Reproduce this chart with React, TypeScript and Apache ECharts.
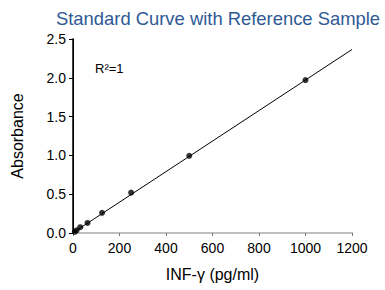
import React, { useEffect, useRef } from "react";
import * as echarts from "echarts";

const concentrations = [7.8, 15.6, 31.25, 62.5, 125, 250, 500, 1000];
const absorbance = [0.015, 0.035, 0.075, 0.13, 0.26, 0.52, 0.995, 1.97];
const fitX = [0, 1200];
const fitY = [0.004, 2.365];
const xTicks = { min: 0, max: 1200, interval: 200 };
const yTicks = { min: 0, max: 2.5, interval: 0.5 };
const titleText = "Standard Curve with Reference Sample";
const xName = "INF-γ (pg/ml)";
const yName = "Absorbance";
const rSquared = "R²=1";

const FONT = "'Liberation Sans', Arial, sans-serif";

export default function App() {
  const ref = useRef<HTMLDivElement>(null);
  useEffect(() => {
    if (!ref.current) return;
    const chart = echarts.init(ref.current, undefined, { renderer: "svg" });
    chart.setOption({
      animation: false,
      backgroundColor: "#ffffff",
      textStyle: { fontFamily: FONT },
      grid: { left: 73, right: 33, top: 39, bottom: 57 },
      xAxis: [
        {
          type: "value",
          min: xTicks.min,
          max: xTicks.max,
          interval: xTicks.interval,
          name: xName,
          nameLocation: "middle",
          nameGap: 33,
          nameTextStyle: { color: "#000", fontSize: 16, fontFamily: FONT },
          axisLine: { show: true, onZero: false, lineStyle: { color: "#777", width: 1.5 } },
          axisTick: { show: true, inside: false, length: 3, lineStyle: { color: "#777" } },
          axisLabel: {
            color: "#000",
            fontSize: 14,
            margin: 8,
            fontFamily: FONT,
            formatter: (v: number) => String(v),
          },
          splitLine: { show: false },
        },
        {
          type: "value",
          position: "top",
          min: xTicks.min,
          max: xTicks.max,
          axisLine: { show: true, lineStyle: { color: "#cccccc", width: 1.5 } },
          axisTick: { show: false },
          axisLabel: { show: false },
          splitLine: { show: false },
        },
      ],
      yAxis: [
        {
          type: "value",
          min: yTicks.min,
          max: yTicks.max,
          interval: yTicks.interval,
          name: yName,
          nameLocation: "middle",
          nameGap: 48,
          nameTextStyle: { color: "#000", fontSize: 16, fontFamily: FONT },
          axisLine: { show: true, onZero: false, lineStyle: { color: "#000", width: 1 } },
          axisTick: { show: true, inside: false, length: 4, lineStyle: { color: "#000" } },
          axisLabel: {
            color: "#000",
            fontSize: 14,
            margin: 7,
            fontFamily: FONT,
            formatter: (v: number) => v.toFixed(1),
          },
          splitLine: { show: false },
        },
        {
          type: "value",
          position: "right",
          min: yTicks.min,
          max: yTicks.max,
          axisLine: { show: true, lineStyle: { color: "#000", width: 1.5 } },
          axisTick: { show: false },
          axisLabel: { show: false },
          splitLine: { show: false },
        },
      ],
      graphic: [
        {
          type: "text",
          x: 218,
          y: 18,
          style: {
            text: titleText,
            fill: "#2E5A94",
            font: `18.4px ${FONT}`,
            textAlign: "center",
            textVerticalAlign: "middle",
          },
        },
        {
          type: "text",
          left: 95,
          top: 62,
          style: { text: rSquared, fill: "#000", font: `13px ${FONT}` },
        },
      ],
      series: [
        {
          type: "line",
          data: fitX.map((x, i) => [x, fitY[i]]),
          showSymbol: false,
          symbol: "none",
          lineStyle: { color: "#000", width: 1 },
          silent: true,
          z: 2,
        },
        {
          type: "scatter",
          data: concentrations.map((x, i) => [x, absorbance[i]]),
          symbol: "circle",
          symbolSize: 6,
          itemStyle: { color: "#000" },
          z: 3,
        },
      ],
    });
    return () => chart.dispose();
  }, []);
  return (
    <div
      ref={ref}
      style={{ position: "absolute", left: 0, top: 0, width: 385, height: 290 }}
    />
  );
}
